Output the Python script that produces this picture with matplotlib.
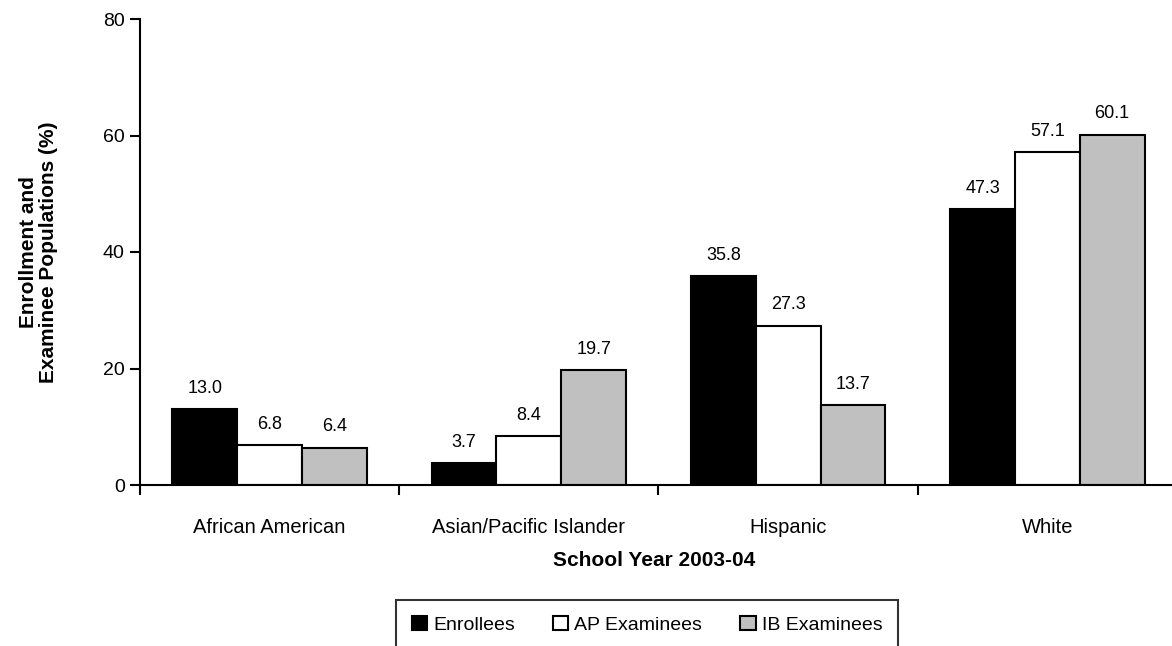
import matplotlib
matplotlib.use("Agg")
import matplotlib.pyplot as plt
import numpy as np
from matplotlib.patches import Patch

categories = ["African American", "Asian/Pacific Islander", "Hispanic", "White"]
series_names = ["Enrollees", "AP Examinees", "IB Examinees"]
enrollees = [13.0, 3.7, 35.8, 47.3]
ap_examinees = [6.8, 8.4, 27.3, 57.1]
ib_examinees = [6.4, 19.7, 13.7, 60.1]
yticks = [0, 20, 40, 60, 80]

plt.rcParams['font.family'] = ['Liberation Sans', 'DejaVu Sans']

W, H = 1172, 646
fig = plt.figure(figsize=(W / 100, H / 100), dpi=100)
left, right, bottom, top = 140, 1177, 485, 19
ax = fig.add_axes([left / W, 1 - bottom / H, (right - left) / W, (bottom - top) / H])

series = [enrollees, ap_examinees, ib_examinees]
colors = ["black", "white", "#c0c0c0"]
x = np.arange(len(categories))
bw = 0.25
for i, (vals, c) in enumerate(zip(series, colors)):
    pos = x + (i - 1) * bw
    ax.bar(pos, vals, width=bw, color=c, edgecolor="black", linewidth=1.5, zorder=2)
    for p, v in zip(pos, vals):
        ax.annotate(f"{v:.1f}", (p, v), xytext=(0, 9), textcoords="offset points",
                    ha="center", va="bottom", fontsize=13)

ax.set_xlim(-0.5, len(categories) - 0.5)
ax.set_ylim(0, 80)
ax.set_yticks(yticks)
ax.tick_params(axis="y", direction="out", length=7, width=1.5, labelsize=14, pad=4)
ax.set_xticks(np.arange(len(categories) + 1) - 0.5, minor=False)
ax.set_xticklabels([""] * (len(categories) + 1))
ax.set_xticks(x, minor=True)
ax.set_xticklabels(categories, minor=True)
ax.tick_params(axis="x", which="major", direction="out", length=7, width=1.5)
ax.tick_params(axis="x", which="minor", length=0, labelsize=14.5, pad=24)

for s in ["top", "right"]:
    ax.spines[s].set_visible(False)
for s in ["left", "bottom"]:
    ax.spines[s].set_linewidth(1.5)

ax.set_xlabel("School Year 2003-04", fontsize=15, fontweight="bold")
ax.xaxis.set_label_coords((654 - left) / (right - left), -(551 - bottom) / (bottom - top))
ax.set_ylabel("Enrollment and\nExaminee Populations (%)", fontsize=15, fontweight="bold",
              linespacing=1.1)
ax.yaxis.set_label_coords(-(140 - 58) / (right - left), 0.5)

handles = [Patch(facecolor=c, edgecolor="black", linewidth=1.5) for c in colors]
leg = fig.legend(handles, series_names, loc="upper left",
                 bbox_to_anchor=(396 / W, 1 - 600 / H, (898 - 396) / W, 0),
                 ncol=3, mode="expand", fontsize=14, frameon=True, fancybox=False,
                 handlelength=0.8, handleheight=0.8, handletextpad=0.3,
                 columnspacing=1.5, borderpad=0.8, borderaxespad=0)
leg.get_frame().set_edgecolor("black")
leg.get_frame().set_linewidth(1.5)

fig.savefig("out.png", dpi=100)
